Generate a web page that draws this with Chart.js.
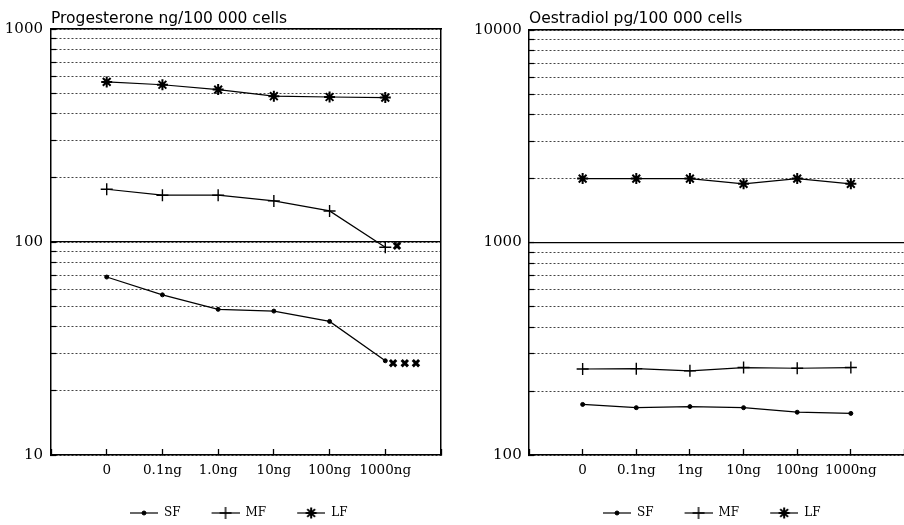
<!DOCTYPE html>
<html>
<head>
<meta charset="utf-8">
<script src="https://cdn.jsdelivr.net/npm/chart.js@4.4.1/dist/chart.umd.min.js"></script>
<style>
  html, body { margin: 0; padding: 0; background: #fff; overflow: hidden; }
  #wrap { position: relative; width: 904px; height: 525px; overflow: hidden; }
  #c1 { position: absolute; left: 0; top: 0; }
  #c2 { position: absolute; left: 452px; top: 0; }
</style>
</head>
<body>
<div id="wrap">
  <canvas id="c1" width="452" height="525"></canvas>
  <canvas id="c2" width="460" height="525"></canvas>
</div>
<script>
// progesterone panel (left)
const progDoses = ['0', '0.1ng', '1.0ng', '10ng', '100ng', '1000ng'];
const progSF = [68.5, 56.5, 48.3, 47.4, 42.4, 27.7];
const progMF = [177, 166, 166, 156, 140, 94.5];
const progLF = [565, 548, 520, 484, 480, 477];
// the bold crosses beside the 1000ng points
const progCrossX = [5.21, 5.14, 5.35, 5.55];
const progCrossY = [96, 27, 27, 27];
const progLabels = [10, 100, 1000];

// oestradiol panel (right)
const oestDoses = ['0', '0.1ng', '1ng', '10ng', '100ng', '1000ng'];
const oestSF = [173, 167, 169, 167, 159, 157];
const oestMF = [254, 255, 249, 258, 256, 258];
const oestLF = [2000, 2000, 2000, 1890, 2000, 1890];
const oestLabels = [100, 1000, 10000];

const seriesNames = ['SF', 'MF', 'LF'];

const markStyles = [
  {pointStyle: 'circle', pointRadius: 2, pointBorderWidth: 1},
  {pointStyle: 'cross', pointRadius: 6, pointBorderWidth: 1.4},
  {pointStyle: 'star', pointRadius: 5.5, pointBorderWidth: 2}
];

const toPoints = values => values.map((v, i) => ({x: i, y: v}));

// 1..9 x every decade between min and max (grid lines)
function decadeGrid(min, max) {
  const out = [];
  for (let p = min; p < max; p *= 10)
    for (let m = 1; m < 10; m++) out.push(m * p);
  out.push(max);
  return out;
}

// legend symbol: short line with the marker, drawn in the right part of a 53px box
function legendIcon(st) {
  const c = document.createElement('canvas');
  c.width = 53; c.height = 14;
  const g = c.getContext('2d');
  g.strokeStyle = '#000'; g.fillStyle = '#000';
  g.lineWidth = 1.2;
  g.beginPath(); g.moveTo(25, 7); g.lineTo(53, 7); g.stroke();
  g.lineWidth = st.pointBorderWidth;
  Chart.helpers.drawPoint(g, {pointStyle: st.pointStyle, radius: st.pointRadius, borderWidth: st.pointBorderWidth, rotation: 0}, 39, 7);
  return c;
}
const legendIcons = markStyles.map(legendIcon);

// moves the legend after layout so it sits where the original one is
const legendShift = {
  id: 'legendShift',
  afterLayout(chart, args, opts) {
    const lg = chart.legend;
    lg.left += opts.dx; lg.right += opts.dx;
    lg.top += opts.dy; lg.bottom += opts.dy;
  }
};

function buildPanel(canvasId, p) {
  const datasets = p.series.map((vals, i) => ({
    label: seriesNames[i],
    data: toPoints(vals),
    borderColor: '#000',
    backgroundColor: '#000',
    borderWidth: 1.2,
    pointStyle: markStyles[i].pointStyle,
    pointRadius: markStyles[i].pointRadius,
    pointBorderWidth: markStyles[i].pointBorderWidth
  }));
  if (p.crossX) {
    datasets.push({
      label: 'x',
      data: p.crossX.map((x, i) => ({x: x, y: p.crossY[i]})),
      showLine: false,
      borderColor: '#000',
      pointStyle: 'crossRot',
      pointRadius: 4.5,
      pointBorderWidth: 3
    });
  }

  return new Chart(canvasId, {
    type: 'line',
    data: {datasets: datasets},
    plugins: [legendShift],
    options: {
      responsive: false,
      animation: false,
      events: [],
      layout: {padding: {top: 0, left: 0, right: p.padRight, bottom: 0}},
      scales: {
        x: {
          type: 'linear', position: 'bottom', min: -1, max: 6,
          ticks: {
            stepSize: 1, autoSkip: false, maxRotation: 0, padding: 13, color: '#000',
            font: {family: 'DejaVu Serif', size: 13.5},
            callback: v => p.doses[v] ?? ''
          },
          grid: {drawOnChartArea: false, drawTicks: true, tickLength: -6, tickColor: '#000', tickWidth: 1.3},
          border: {color: '#000', width: 1.5},
          afterFit: s => { s.height = 42; s.paddingLeft = 0; s.paddingRight = 0; }
        },
        xTop: {
          type: 'linear', position: 'top', min: -1, max: 6,
          ticks: {display: false},
          grid: {drawOnChartArea: false, drawTicks: false},
          border: {color: '#000', width: 1.5},
          afterFit: s => { s.height = 0; s.paddingLeft = 0; s.paddingRight = 0; }
        },
        y: {
          type: 'logarithmic', position: 'left', min: p.yMin, max: p.yMax,
          afterBuildTicks: s => { s.ticks = decadeGrid(p.yMin, p.yMax).map(v => ({value: v})); },
          ticks: {
            autoSkip: false, padding: p.yPad, color: '#000',
            font: {family: 'DejaVu Serif', size: 15},
            callback: v => p.yLabels.includes(v) ? String(v) : ''
          },
          grid: {color: '#444', lineWidth: 1, drawTicks: true, tickLength: -5, tickColor: '#000', tickWidth: 1.2},
          border: {color: '#000', width: 1.5, dash: [2, 2]},
          afterFit: s => { s.width = p.yWidth; s.paddingTop = 0; s.paddingBottom = 0; }
        },
        yRight: {
          type: 'logarithmic', position: 'right', min: p.yMin, max: p.yMax,
          afterBuildTicks: s => { s.ticks = p.yLabels.slice(1, -1).map(v => ({value: v})); },
          ticks: {display: false},
          grid: {color: '#000', lineWidth: 1.3, drawTicks: false},
          border: {color: '#000', width: 1.5},
          afterFit: s => { s.width = 0; s.paddingTop = 0; s.paddingBottom = 0; }
        }
      },
      plugins: {
        title: {
          display: true, text: p.title, align: 'start', fullSize: false, color: '#000',
          font: {family: 'DejaVu Sans', size: 15.5, weight: 'normal'},
          padding: {top: 9.5, bottom: p.titleGap}
        },
        legend: {
          position: 'bottom', align: 'start',
          labels: {
            usePointStyle: true, pointStyleWidth: 53, boxHeight: 12, padding: 6, color: '#000',
            font: {family: 'DejaVu Serif', size: 12},
            filter: item => item.datasetIndex < 3,
            generateLabels: chart => Chart.defaults.plugins.legend.labels.generateLabels(chart)
              .map(item => Object.assign(item, {pointStyle: legendIcons[item.datasetIndex]}))
          }
        },
        legendShift: {dx: p.legendDx, dy: 4},
        tooltip: {enabled: false}
      }
    }
  });
}

buildPanel('c1', {
  title: 'Progesterone ng/100 000 cells',
  doses: progDoses,
  series: [progSF, progMF, progLF],
  crossX: progCrossX, crossY: progCrossY,
  yMin: 10, yMax: 1000, yLabels: progLabels,
  yWidth: 51, yPad: 13, padRight: 11, titleGap: 1, legendDx: 99
});

buildPanel('c2', {
  title: 'Oestradiol pg/100 000 cells',
  doses: oestDoses,
  series: [oestSF, oestMF, oestLF],
  yMin: 100, yMax: 10000, yLabels: oestLabels,
  yWidth: 77, yPad: 12.3, padRight: 2, titleGap: 2, legendDx: 120
});
</script>
</body>
</html>
